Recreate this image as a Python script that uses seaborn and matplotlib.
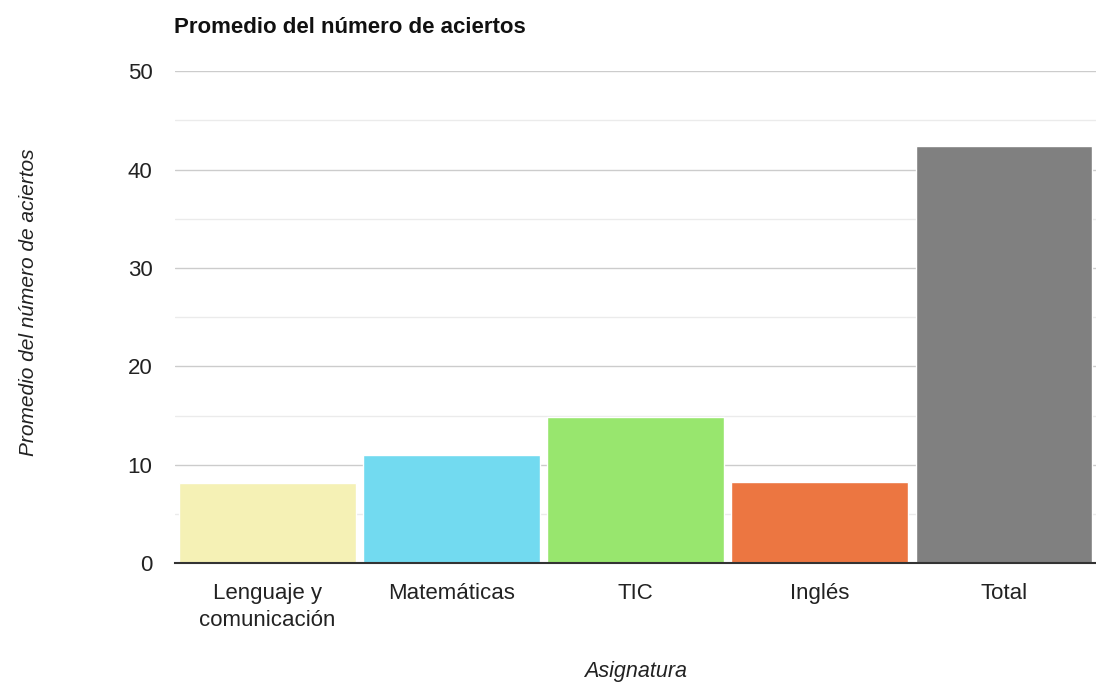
import matplotlib
matplotlib.use("Agg")
import matplotlib.pyplot as plt
import seaborn as sns
import pandas as pd

# datos
asignaturas = ["Lenguaje y\ncomunicación", "Matemáticas", "TIC", "Inglés", "Total"]
promedios = [8.1, 11.0, 14.9, 8.25, 42.4]
colores = ["#F5F1B5", "#72DAF0", "#98E66E", "#EC7641", "#808080"]

df = pd.DataFrame({"Asignatura": asignaturas, "Promedio": promedios})

sns.set_style("white")
plt.rcParams['font.family'] = ['Liberation Sans', 'DejaVu Sans']

fig = plt.figure(figsize=(10.96, 6.85), dpi=100)
ax = fig.add_axes([0.16, 0.178, 0.84, 0.718])

sns.barplot(data=df, x="Asignatura", y="Promedio", hue="Asignatura",
            palette=colores, width=0.96, saturation=1, legend=False,
            zorder=3, ax=ax)

ax.set_ylim(0, 50)
ax.set_yticks([0, 10, 20, 30, 40, 50])
ax.set_yticks([5, 15, 25, 35, 45], minor=True)
ax.grid(axis="y", which="major", color="#cccccc", linewidth=1, zorder=0)
ax.grid(axis="y", which="minor", color="#ebebeb", linewidth=1, zorder=0)
ax.set_xlim(-0.5, 4.5)

for s in ["top", "right", "left"]:
    ax.spines[s].set_visible(False)
ax.spines["bottom"].set_color("#333333")
ax.spines["bottom"].set_linewidth(1.5)
ax.spines["bottom"].set_zorder(4)

ax.tick_params(axis="both", which="both", length=0, labelsize=16,
               labelcolor="#222222")
ax.tick_params(axis="y", pad=16.5)
ax.tick_params(axis="x", pad=14)
for t in ax.get_xticklabels():
    t.set_linespacing(1.4)

ax.set_xlabel("Asignatura", fontsize=15.5, fontstyle="italic", color="#222222")
ax.xaxis.set_label_coords(0.5, -0.2)
ax.set_ylabel("Promedio del número de aciertos", fontsize=15,
              fontstyle="italic", color="#222222")
ax.yaxis.set_label_coords(-0.149, 0.53)

fig.text(0.159, 0.96, "Promedio del número de aciertos", fontsize=16,
         fontweight="bold", color="#111111", va="center", ha="left")

fig.savefig("out.png", dpi=100)
